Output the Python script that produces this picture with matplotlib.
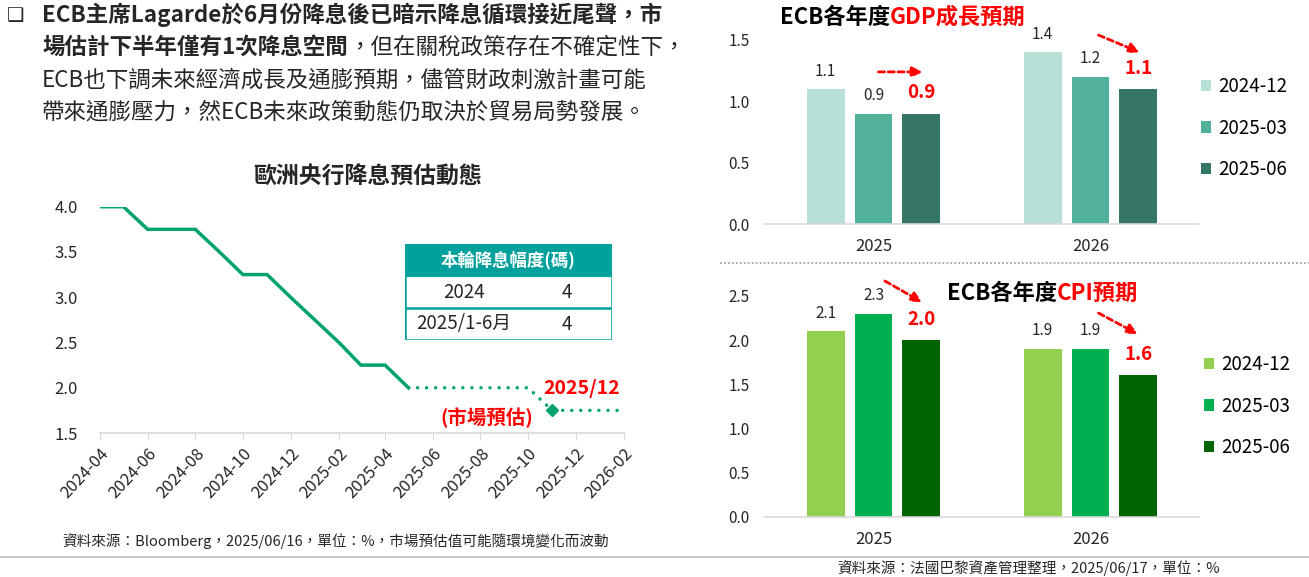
import numpy as np
import matplotlib
matplotlib.use("Agg")
import matplotlib.pyplot as plt
import matplotlib.dates as mdates
from matplotlib.patches import Rectangle
from matplotlib.lines import Line2D

plt.rcParams['font.family'] = ['Noto Sans CJK TC', 'DejaVu Sans']

# ---- data ----
rate_dates = np.array(["2024-04-01", "2024-05-01", "2024-06-01", "2024-07-01", "2024-08-01",
                       "2024-09-01", "2024-10-01", "2024-11-01", "2024-12-01", "2025-01-01",
                       "2025-02-01", "2025-03-01", "2025-04-01", "2025-05-01"], dtype="datetime64[D]")
rate_values = [4.0, 4.0, 3.75, 3.75, 3.75, 3.5, 3.25, 3.25, 3.0, 2.75, 2.5, 2.25, 2.25, 2.0]

fcst_dates = np.array(["2025-05-01", "2025-06-01", "2025-07-01", "2025-08-01", "2025-09-01",
                       "2025-10-01", "2025-11-01", "2025-12-01", "2026-01-01", "2026-02-01"],
                      dtype="datetime64[D]")
fcst_values = [2.0, 2.0, 2.0, 2.0, 2.0, 2.0, 1.75, 1.75, 1.75, 1.75]

table_header = "本輪降息幅度(碼)"
table_years = ["2024", "2025/1-6月"]
table_cuts = ["4", "4"]

years = ["2025", "2026"]
vintages = ["2024-12", "2025-03", "2025-06"]
gdp_2024_12 = [1.1, 1.4]
gdp_2025_03 = [0.9, 1.2]
gdp_2025_06 = [0.9, 1.1]
cpi_2024_12 = [2.1, 1.9]
cpi_2025_03 = [2.3, 1.9]
cpi_2025_06 = [2.0, 1.6]

W, H = 1309, 577
fig = plt.figure(figsize=(W / 100, H / 100), dpi=100)
fig.patch.set_facecolor("white")

def fx(px):
    return px / W

def fy(py):
    return 1 - py / H

def px_axes(left, top, right, bottom):
    return fig.add_axes([fx(left), fy(bottom), (right - left) / W, (bottom - top) / H])

renderer = fig.canvas.get_renderer()

def chain_text(x, y, parts, size):
    # draw text pieces one after another on the same line
    for s, weight, color in parts:
        t = fig.text(fx(x), fy(y), s, fontsize=size, fontweight=weight, color=color,
                     ha="left", va="center")
        x = t.get_window_extent(renderer=renderer).x1

TXT = "#262626"
RED = "#FF0000"

# ---- top-left paragraph ----
fig.text(fx(7), fy(15), "\u2751", fontsize=14, family="DejaVu Sans", color=TXT,
         ha="left", va="center")
para = [
    [("ECB主席Lagarde於6月份降息後已暗示降息循環接近尾聲，市", "bold", TXT)],
    [("場估計下半年僅有1次降息空間", "bold", TXT), ("，但在關稅政策存在不確定性下，", "normal", TXT)],
    [("ECB也下調未來經濟成長及通膨預期，儘管財政刺激計畫可能", "normal", TXT)],
    [("帶來通膨壓力，然ECB未來政策動態仍取決於貿易局勢發展。", "normal", TXT)],
]
for i, line in enumerate(para):
    chain_text(42, [15, 47, 80, 112][i], line, 16.2)

# ---- line chart ----
GREEN = "#00A36C"
ax = px_axes(100, 206.7, 624, 433)
ax.plot(rate_dates, rate_values, color=GREEN, lw=2.5, solid_joinstyle="miter")
ax.plot(fcst_dates, fcst_values, color=GREEN, lw=2.5, linestyle=(0, (0.01, 2.6)),
        dash_capstyle="round")
ax.plot(fcst_dates[6:7], fcst_values[6:7], marker="D", ms=6.5, color=GREEN, lw=0)
ax.set_xlim(np.datetime64("2024-04-01"), np.datetime64("2026-02-01"))
ax.set_ylim(1.5, 4.0)
ax.set_yticks(np.arange(1.5, 4.01, 0.5))
ax.yaxis.set_major_formatter(plt.FormatStrFormatter("%.1f"))
ax.xaxis.set_major_locator(mdates.MonthLocator(bymonth=[2, 4, 6, 8, 10, 12]))
ax.xaxis.set_major_formatter(mdates.DateFormatter("%Y-%m"))
for s in ["top", "right", "left"]:
    ax.spines[s].set_visible(False)
ax.spines["bottom"].set_color("#D9D9D9")
ax.spines["bottom"].set_linewidth(1.2)
ax.tick_params(axis="x", length=5, color="#D9D9D9", labelsize=12, labelcolor=TXT, pad=4)
ax.tick_params(axis="y", length=0, labelsize=12, labelcolor=TXT, pad=16)
for lab in ax.get_xticklabels():
    lab.set_rotation(47)
    lab.set_ha("right")
    lab.set_va("top")
    lab.set_rotation_mode("anchor")
ax.patch.set_alpha(0)

fig.text(fx(368), fy(177), "歐洲央行降息預估動態", fontsize=16.5, fontweight="bold",
         color=TXT, ha="center", va="center")
fig.text(fx(543), fy(388), "2025/12", fontsize=14, fontweight="bold", color=RED,
         ha="left", va="center")
fig.text(fx(440), fy(418), "(市場預估)", fontsize=14, fontweight="bold", color=RED,
         ha="left", va="center")
fig.text(fx(336), fy(541), "資料來源：Bloomberg，2025/06/16，單位：%，市場預估值可能隨環境變化而波動",
         fontsize=10.5, color=TXT, ha="center", va="center")

# ---- table ----
TEAL = "#00A19D"
tax = px_axes(405, 244, 612, 340)
tax.set_xlim(0, 1)
tax.set_ylim(0, 3)
tax.axis("off")
tax.add_patch(Rectangle((0, 2), 1, 1, facecolor=TEAL, edgecolor=TEAL, lw=1.5))
tax.add_patch(Rectangle((0, 0), 1, 3, facecolor="none", edgecolor=TEAL, lw=1.8))
tax.plot([0, 1], [1, 1], color=TEAL, lw=1.8)
tax.text(0.5, 2.5, table_header, fontsize=12.5, fontweight="bold", color="white",
         ha="center", va="center")
for i, (yr, n) in enumerate(zip(table_years, table_cuts)):
    tax.text(0.285, 1.5 - i, yr, fontsize=13.5, color=TXT, ha="center", va="center")
    tax.text(0.78, 1.5 - i, n, fontsize=13.5, color=TXT, ha="center", va="center")

# ---- bar charts ----
x = np.arange(len(years))
offsets = [-0.221, 0, 0.221]
bw = 0.175

def bar_panel(ax, series, colors, ymax, arrows):
    handles = []
    for k, (vals, col, off) in enumerate(zip(series, colors, offsets)):
        b = ax.bar(x + off, vals, width=bw, color=col, label=vintages[k])
        handles.append(b)
        for xi, v in zip(x + off, vals):
            if k == 2:
                ax.annotate(f"{v:.1f}", (xi, v), xytext=(0, 15), textcoords="offset points",
                            ha="center", va="center", fontsize=13.5, fontweight="bold",
                            color=RED, annotation_clip=False)
            else:
                ax.annotate(f"{v:.1f}", (xi, v), xytext=(0, 13), textcoords="offset points",
                            ha="center", va="center", fontsize=11, color=TXT,
                            annotation_clip=False)
    for start, end in arrows:
        ax.annotate("", xy=end, xytext=start, annotation_clip=False,
                    arrowprops=dict(arrowstyle="-|>,head_length=0.6,head_width=0.3",
                                    color=RED, lw=2, linestyle=(0, (2.2, 1.3)),
                                    shrinkA=0, shrinkB=0))
    ax.set_xlim(-0.5, 1.5)
    ax.set_ylim(0, ymax)
    ax.set_yticks(np.arange(0, ymax + 0.01, 0.5))
    ax.yaxis.set_major_formatter(plt.FormatStrFormatter("%.1f"))
    ax.set_xticks(x)
    ax.set_xticklabels(years)
    for s in ["top", "right", "left"]:
        ax.spines[s].set_visible(False)
    ax.spines["bottom"].set_color("#D9D9D9")
    ax.spines["bottom"].set_linewidth(1.2)
    ax.tick_params(axis="x", length=0, labelsize=12, labelcolor=TXT, pad=10)
    ax.tick_params(axis="y", length=0, labelsize=11, labelcolor=TXT, pad=11)
    ax.patch.set_alpha(0)
    return handles

legend_kw = dict(loc="center left", bbox_transform=fig.transFigure, frameon=False,
                 fontsize=13.5, handlelength=0.55, handleheight=0.55, handletextpad=0.35,
                 labelspacing=1.1, borderpad=0, borderaxespad=0)

gax = px_axes(765, 40, 1199, 224)
gh = bar_panel(gax, [gdp_2024_12, gdp_2025_03, gdp_2025_06],
               ["#B8E0D7", "#52B19A", "#357766"], 1.5,
               [((0.023, 1.24), (0.226, 1.24)), ((1.037, 1.54), (1.226, 1.40))])
gax.legend(handles=gh, labels=vintages, bbox_to_anchor=(fx(1201), fy(128)), **legend_kw)
chain_text(780, 17, [("ECB各年度", "bold", "black"), ("GDP成長預期", "bold", RED)], 16)

cax = px_axes(765, 296, 1199, 516.7)
ch = bar_panel(cax, [cpi_2024_12, cpi_2025_03, cpi_2025_06],
               ["#92D050", "#00B050", "#006400"], 2.5,
               [((0.053, 2.67), (0.223, 2.43)), ((1.037, 2.307), (1.217, 2.07))])
cax.legend(handles=ch, labels=vintages, bbox_to_anchor=(fx(1204), fy(406)), **legend_kw)
chain_text(947, 293, [("ECB各年度", "bold", "black"), ("CPI預期", "bold", RED)], 16)

fig.text(fx(1029), fy(568), "資料來源：法國巴黎資產管理整理，2025/06/17，單位：%",
         fontsize=10.5, color=TXT, ha="center", va="center")

# separators
fig.add_artist(Line2D([fx(720), 1], [fy(263), fy(263)], transform=fig.transFigure,
                      color="#A6A6A6", lw=1.3, linestyle=(0, (1, 1.2))))
fig.add_artist(Line2D([0, 1], [fy(557), fy(557)], transform=fig.transFigure,
                      color="#BFBFBF", lw=1.2))

fig.savefig("out.png", dpi=100, facecolor="white")
